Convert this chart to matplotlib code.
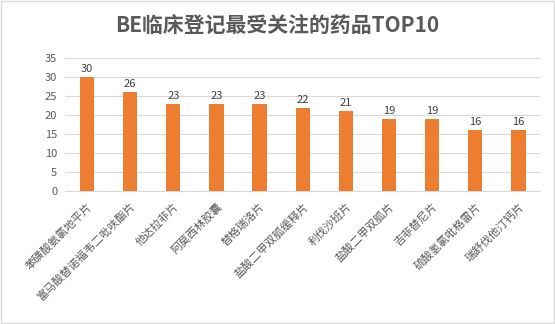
import matplotlib.pyplot as plt
import numpy as np

plt.rcParams["font.family"] = ["Noto Sans CJK SC", "DejaVu Sans"]

TITLE = "BE临床登记最受关注的药品TOP10"
DRUGS = [
    "苯磺酸氨氯地平片", "富马酸替诺福韦二吡呋酯片", "他达拉非片", "阿莫西林胶囊",
    "替格瑞洛片", "盐酸二甲双胍缓释片", "利伐沙班片", "盐酸二甲双胍片",
    "吉非替尼片", "硫酸氢氯吡格雷片", "瑞舒伐他汀钙片",
]
COUNTS = [30, 26, 23, 23, 23, 22, 21, 19, 19, 16, 16]
Y_TICKS = [0, 5, 10, 15, 20, 25, 30, 35]

BAR_COLOR = "#ED7D31"
TEXT_COLOR = "#595959"
GRID_COLOR = "#D9D9D9"

fig = plt.figure(figsize=(5.55, 3.24), dpi=100)
ax = fig.add_axes([0.118, 0.41, 0.855, 0.41])

x = np.arange(len(DRUGS))
bars = ax.bar(x, COUNTS, width=0.33, color=BAR_COLOR, zorder=3)
for rect, val in zip(bars, COUNTS):
    ax.text(rect.get_x() + rect.get_width() / 2, val + 0.8, str(val),
            ha="center", va="bottom", fontsize=8, color="#404040")

ax.set_xlim(-0.5, len(DRUGS) - 0.5)
ax.set_ylim(0, 35)
ax.set_yticks(Y_TICKS)
ax.yaxis.grid(True, color=GRID_COLOR, linewidth=0.8, zorder=0)
ax.tick_params(axis="y", length=0, labelsize=8, labelcolor=TEXT_COLOR, pad=6)
ax.tick_params(axis="x", length=0, pad=7)
ax.set_xticks(x)
ax.set_xticklabels(DRUGS, rotation=45, ha="right", rotation_mode="anchor",
                   fontsize=8, color=TEXT_COLOR)
for side in ["top", "right", "left"]:
    ax.spines[side].set_visible(False)
ax.spines["bottom"].set_color(GRID_COLOR)

fig.text(0.5, 0.92, TITLE, ha="center", va="center", fontsize=15,
         fontweight="bold", color=TEXT_COLOR)

border = plt.Rectangle((0.002, 0.003), 0.996, 0.994, transform=fig.transFigure,
                       fill=False, edgecolor="#D9D9D9", linewidth=1)
fig.patches.append(border)

fig.savefig("out.png", dpi=100)
